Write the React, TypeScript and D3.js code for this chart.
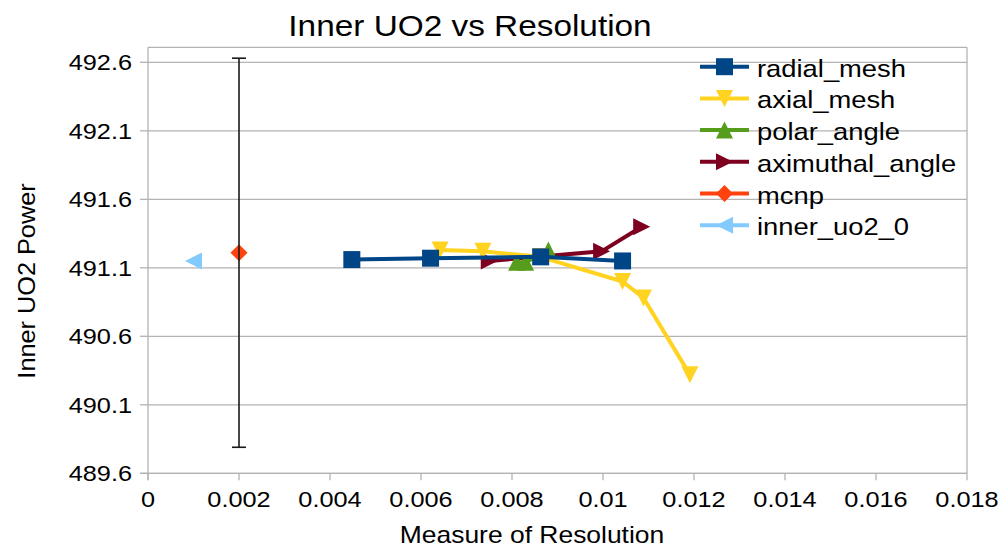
import React from "react";
import * as d3 from "d3";

// Series data: [measure of resolution, inner UO2 power]
const radialMesh: [number, number][] = [
  [0.00448, 491.16],
  [0.00621, 491.17],
  [0.00863, 491.18],
  [0.01043, 491.15],
];
const axialMesh: [number, number][] = [
  [0.00642, 491.23],
  [0.00736, 491.22],
  [0.00862, 491.18],
  [0.01043, 491.0],
  [0.01089, 490.88],
  [0.01191, 490.32],
];
const polarAngle: [number, number][] = [
  [0.0081, 491.14],
  [0.0083, 491.14],
  [0.0088, 491.23],
];
const aximuthalAngle: [number, number][] = [
  [0.0075, 491.15],
  [0.00997, 491.22],
  [0.01085, 491.4],
];
const mcnp: [number, number][] = [[0.002, 491.21]];
const mcnpError = 1.42;
const innerUo2: [number, number][] = [[0.001, 491.15]];

const xTicks = [0, 0.002, 0.004, 0.006, 0.008, 0.01, 0.012, 0.014, 0.016, 0.018];
const yTicks = [489.6, 490.1, 490.6, 491.1, 491.6, 492.1, 492.6];

type Shape = "square" | "down" | "up" | "right" | "diamond" | "left";

const seriesList: { name: string; data: [number, number][]; color: string; shape: Shape }[] = [
  { name: "radial_mesh", data: radialMesh, color: "#004586", shape: "square" },
  { name: "axial_mesh", data: axialMesh, color: "#ffd320", shape: "down" },
  { name: "polar_angle", data: polarAngle, color: "#579d1c", shape: "up" },
  { name: "aximuthal_angle", data: aximuthalAngle, color: "#7e0021", shape: "right" },
  { name: "mcnp", data: mcnp, color: "#ff420e", shape: "diamond" },
  { name: "inner_uo2_0", data: innerUo2, color: "#83caff", shape: "left" },
];

const FONT = "'Liberation Sans', Arial, sans-serif";
const SX = 1.15;
const GRID = "#b3b3b3";

const plot = { left: 148, right: 967, top: 47.3, bottom: 473.3 };

const x = d3.scaleLinear().domain([0, 0.018]).range([plot.left, plot.right]);
const y = d3
  .scaleLinear()
  .domain([489.6, 492.6])
  .range([plot.bottom, 62.3]);

function markerPath(shape: Shape, cx: number, cy: number, s: number): string {
  const h = s / 2;
  const p = d3.path();
  switch (shape) {
    case "square":
      p.rect(cx - h, cy - h, s, s);
      break;
    case "down":
      p.moveTo(cx - h, cy - h);
      p.lineTo(cx + h, cy - h);
      p.lineTo(cx, cy + h);
      p.closePath();
      break;
    case "up":
      p.moveTo(cx - h, cy + h);
      p.lineTo(cx + h, cy + h);
      p.lineTo(cx, cy - h);
      p.closePath();
      break;
    case "right":
      p.moveTo(cx - h, cy - h);
      p.lineTo(cx + h, cy);
      p.lineTo(cx - h, cy + h);
      p.closePath();
      break;
    case "left":
      p.moveTo(cx + h, cy - h);
      p.lineTo(cx - h, cy);
      p.lineTo(cx + h, cy + h);
      p.closePath();
      break;
    case "diamond":
      p.moveTo(cx, cy - h);
      p.lineTo(cx + h, cy);
      p.lineTo(cx, cy + h);
      p.lineTo(cx - h, cy);
      p.closePath();
      break;
  }
  return p.toString();
}

function SText(props: {
  x: number;
  y: number;
  size: number;
  anchor?: "start" | "middle" | "end";
  rotate?: number;
  sx?: number;
  children: React.ReactNode;
}) {
  const { x: tx, y: ty, size, anchor = "start", rotate = 0, sx = SX, children } = props;
  return (
    <text
      transform={`translate(${tx},${ty}) rotate(${rotate}) scale(${sx},1)`}
      textAnchor={anchor}
      fontFamily={FONT}
      fontSize={size}
      fill="#000"
    >
      {children}
    </text>
  );
}

export default function App() {
  const line = d3
    .line<[number, number]>()
    .x((d) => x(d[0]))
    .y((d) => y(d[1]));

  const legendX = 700;
  const legendY0 = 66.7;
  const legendStep = 31.7;
  const mSize = 17;

  const drawOrder = [...seriesList].reverse();
  const mc = mcnp[0];

  return (
    <svg
      width={1005}
      height={550}
      style={{ position: "absolute", left: 0, top: 0, background: "#fff" }}
    >
      {/* horizontal gridlines */}
      {yTicks.map((t) => (
        <line key={"g" + t} x1={plot.left} x2={plot.right} y1={y(t)} y2={y(t)} stroke={GRID} strokeWidth={1.3} />
      ))}
      {/* plot frame */}
      <line x1={plot.left} x2={plot.right} y1={plot.top} y2={plot.top} stroke={GRID} strokeWidth={1.3} />
      <line x1={plot.right} x2={plot.right} y1={plot.top} y2={plot.bottom} stroke={GRID} strokeWidth={1.3} />
      <line x1={plot.left} x2={plot.left} y1={plot.top} y2={plot.bottom + 7} stroke={GRID} strokeWidth={1.3} />
      <line x1={plot.left - 8} x2={plot.right} y1={plot.bottom} y2={plot.bottom} stroke={GRID} strokeWidth={1.3} />

      {/* y ticks */}
      {yTicks.map((t) => (
        <g key={"yt" + t}>
          <line x1={plot.left - 8} x2={plot.left} y1={y(t)} y2={y(t)} stroke={GRID} strokeWidth={1.3} />
          <SText x={132} y={y(t) + 8} size={22} anchor="end">
            {d3.format(".1f")(t)}
          </SText>
        </g>
      ))}
      {/* x ticks */}
      {xTicks.map((t) => (
        <g key={"xt" + t}>
          <line x1={x(t)} x2={x(t)} y1={plot.bottom} y2={plot.bottom + 7} stroke={GRID} strokeWidth={1.3} />
          <SText x={x(t)} y={507} size={22} anchor="middle">
            {String(t)}
          </SText>
        </g>
      ))}

      {/* titles */}
      <SText x={470} y={36} size={29} anchor="middle">
        Inner UO2 vs Resolution
      </SText>
      <SText x={532} y={543} size={23} anchor="middle">
        Measure of Resolution
      </SText>
      <SText x={35} y={281} size={23} anchor="middle" rotate={-90} sx={1.1}>
        Inner UO2 Power
      </SText>

      {/* series */}
      {drawOrder.map((s) => (
        <g key={s.name}>
          {s.data.length > 1 && (
            <path d={line(s.data) ?? ""} fill="none" stroke={s.color} strokeWidth={4} strokeLinejoin="round" />
          )}
          {s.data.map((d, i) => (
            <path key={i} d={markerPath(s.shape, x(d[0]), y(d[1]), mSize)} fill={s.color} />
          ))}
        </g>
      ))}

      {/* mcnp error bar */}
      <g stroke="#1a1a1a" strokeWidth={1.6}>
        <line x1={x(mc[0])} x2={x(mc[0])} y1={y(mc[1] - mcnpError)} y2={y(mc[1] + mcnpError)} />
        <line x1={x(mc[0]) - 7} x2={x(mc[0]) + 7} y1={y(mc[1] + mcnpError)} y2={y(mc[1] + mcnpError)} />
        <line x1={x(mc[0]) - 7} x2={x(mc[0]) + 7} y1={y(mc[1] - mcnpError)} y2={y(mc[1] - mcnpError)} />
      </g>

      {/* legend */}
      {seriesList.map((s, i) => {
        const ly = legendY0 + i * legendStep;
        return (
          <g key={"lg" + s.name}>
            <line x1={legendX} x2={legendX + 49} y1={ly} y2={ly} stroke={s.color} strokeWidth={4} />
            <path d={markerPath(s.shape, legendX + 24.5, ly, mSize)} fill={s.color} />
            <SText x={757} y={ly + 10} size={24} sx={1.14}>
              {s.name}
            </SText>
          </g>
        );
      })}
    </svg>
  );
}
